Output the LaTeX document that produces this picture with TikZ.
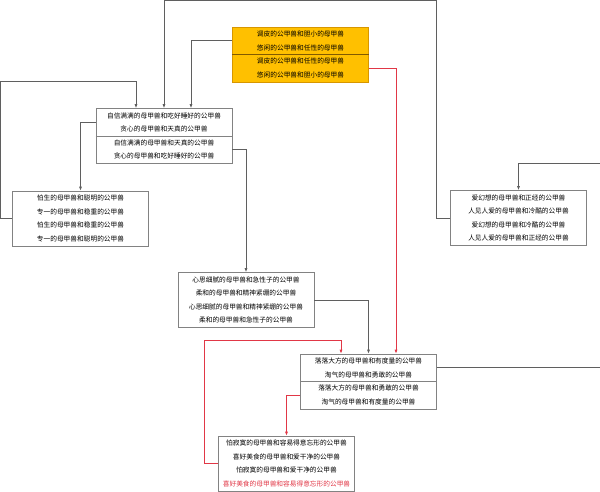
\documentclass[tikz,border=0pt]{standalone}
\usepackage{fontspec}
\newfontfamily\cjk{Noto Sans CJK SC}
\usepackage{xcolor}
\usetikzlibrary{arrows.meta}
\definecolor{boxgray}{RGB}{130,130,130}
\definecolor{linegray}{RGB}{95,95,95}
\definecolor{linered}{RGB}{225,55,70}
\definecolor{recorange}{RGB}{255,192,0}
\definecolor{recedge}{RGB}{215,150,0}

\begin{document}
\begin{tikzpicture}[x=1pt, y=-1pt, line width=0.7pt,
    pairbox/.style={draw=boxgray, rectangle, minimum width=136pt, minimum height=55pt, inner sep=0pt, align=center, font=\cjk\fontsize{6.7}{13.6}\selectfont},
    link/.style={draw=linegray, -{Latex[length=4pt,width=3pt]}},
    redlink/.style={link, draw=linered}]
        \useasboundingbox (0,0) rectangle (600,491);

        % Components
        \node (tiaopi) [pairbox, fill=recorange, draw=recedge] at (300.5,54.5) {调皮的公甲兽和胆小的母甲兽\\悠闲的公甲兽和任性的母甲兽\\调皮的公甲兽和任性的母甲兽\\悠闲的公甲兽和胆小的母甲兽};
        \node (zixin) [pairbox] at (164,136) {自信满满的母甲兽和吃好睡好的公甲兽\\贪心的母甲兽和天真的公甲兽\\自信满满的母甲兽和天真的公甲兽\\贪心的母甲兽和吃好睡好的公甲兽};
        \node (pasheng) [pairbox] at (80.5,218.5) {怕生的母甲兽和聪明的公甲兽\\专一的母甲兽和稳重的公甲兽\\怕生的母甲兽和稳重的公甲兽\\专一的母甲兽和聪明的公甲兽};
        \node (aihuan) [pairbox] at (518.5,218) {爱幻想的母甲兽和正经的公甲兽\\人见人爱的母甲兽和冷酷的公甲兽\\爱幻想的母甲兽和冷酷的公甲兽\\人见人爱的母甲兽和正经的公甲兽};
        \node (xinsi) [pairbox] at (246,300) {心思细腻的母甲兽和急性子的公甲兽\\柔和的母甲兽和精神紧绷的公甲兽\\心思细腻的母甲兽和精神紧绷的公甲兽\\柔和的母甲兽和急性子的公甲兽};
        \node (luoluo) [pairbox] at (368.5,381.5) {落落大方的母甲兽和有度量的公甲兽\\淘气的母甲兽和勇敢的公甲兽\\落落大方的母甲兽和勇敢的公甲兽\\淘气的母甲兽和有度量的公甲兽};
        \node (pajimo) [pairbox] at (286.5,463.5) {怕寂寞的母甲兽和容易得意忘形的公甲兽\\喜好美食的母甲兽和爱干净的公甲兽\\怕寂寞的母甲兽和爱干净的公甲兽\\\textcolor{linered}{喜好美食的母甲兽和容易得意忘形的公甲兽}};

        % Dividers
        \draw[recedge!60!black] (tiaopi.west) -- (tiaopi.east);
        \draw[boxgray] (zixin.west) -- (zixin.east);
        \draw[boxgray] (luoluo.west) -- (luoluo.east);

        % Off-picture ends
        \coordinate (rightF) at (600,367.75);
        \coordinate (rightD) at (600,163);

        % Arrows
        \draw[link] ([yshift=13.75pt]tiaopi.west) -| ([xshift=27pt]zixin.north);
        \draw[link] (aihuan.west) -- ++(-14,0) |- ([yshift=108pt]zixin.north) -- (zixin.north);
        \draw[link] (pasheng.west) -- ++(-12,0) |- ([xshift=-28pt,yshift=26.5pt]zixin.north) -- ([xshift=-28pt]zixin.north);
        \draw[link] ([yshift=13.75pt]zixin.west) -| (pasheng.north);
        \draw[link] ([yshift=-13.75pt]zixin.east) -| (xinsi.north);
        \draw[link] (xinsi.east) -| (luoluo.north);
        \draw[redlink] ([yshift=-13.75pt]tiaopi.east) -| ([xshift=27.5pt]luoluo.north);
        \draw[redlink] (pajimo.west) -- ++(-14,0) |- ([xshift=-27.5pt,yshift=13pt]luoluo.north) -- ([xshift=-27.5pt]luoluo.north);
        \draw[redlink] ([yshift=-13.75pt]luoluo.west) -| (pajimo.north);
        \draw[linegray] ([yshift=13.75pt]luoluo.east) -- (rightF);
        \draw[link] (rightD) -| (aihuan.north);
\end{tikzpicture}
\end{document}
